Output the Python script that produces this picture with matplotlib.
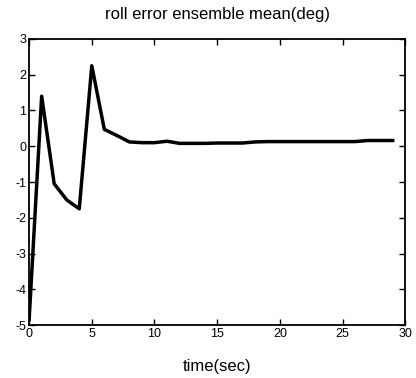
import numpy as np
import matplotlib
matplotlib.use("Agg")
import matplotlib.pyplot as plt

plt.rcParams['font.family'] = ['Liberation Sans', 'DejaVu Sans']
plt.rcParams['axes.unicode_minus'] = False

# roll error ensemble mean, one sample per second
t = np.arange(0, 30)
roll_err = [-4.85, 1.4, -1.05, -1.5, -1.75, 2.25, 0.47, 0.3, 0.12, 0.1,
            0.1, 0.14, 0.08, 0.08, 0.08, 0.09, 0.09, 0.09, 0.12, 0.13,
            0.13, 0.13, 0.13, 0.13, 0.13, 0.13, 0.13, 0.16, 0.16, 0.16]
xticks = [0, 5, 10, 15, 20, 25, 30]
yticks = [-5, -4, -3, -2, -1, 0, 1, 2, 3]

fig = plt.figure(figsize=(4.16, 3.78), dpi=100)
ax = fig.add_axes([0.07, 0.14, 0.904, 0.757])
ax.plot(t, roll_err, color='black', linewidth=2.5)

ax.set_xlim(0, 30)
ax.set_ylim(-5, 3)
ax.set_xticks(xticks)
ax.set_yticks(yticks)
ax.tick_params(direction='in', top=True, right=True, labelsize=9,
               length=4, width=1, pad=2)
for s in ax.spines.values():
    s.set_linewidth(1.3)

ax.set_title("roll error ensemble mean(deg)", fontsize=12, pad=14)
ax.set_xlabel("time(sec)", fontsize=12, labelpad=14)

fig.savefig("out.png", dpi=100)
